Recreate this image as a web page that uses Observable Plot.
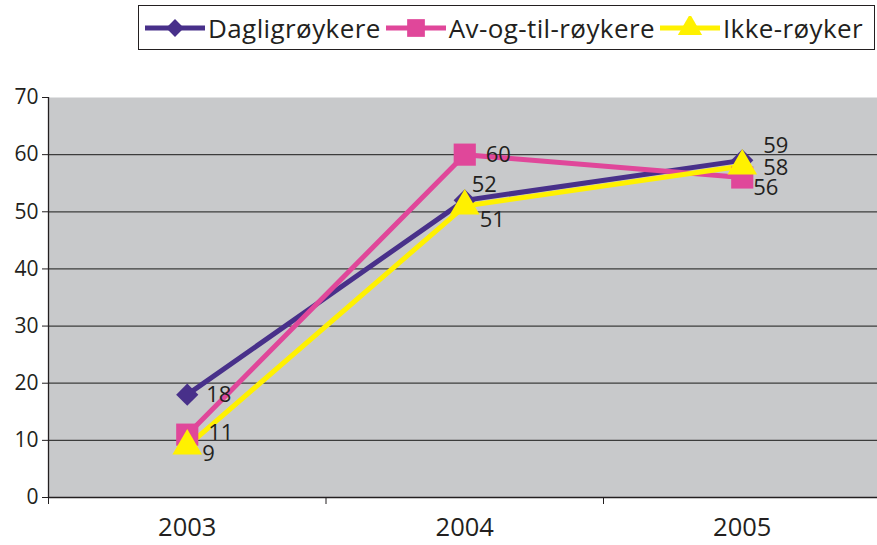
<!DOCTYPE html>
<html><head><meta charset="utf-8">
<script src="https://cdn.jsdelivr.net/npm/d3@7"></script>
<script src="https://cdn.jsdelivr.net/npm/@observablehq/plot@0.6"></script>
<style>
body{margin:0;background:#fff;overflow:hidden;font-family:"Open Sans",sans-serif;color:#231f20}
#wrap{position:relative;width:877px;height:545px}
#legend{position:absolute;left:138px;top:5px;width:737px;height:45px;border:1.3px solid #231f20;background:#fff;display:flex;align-items:center;padding-left:6px;box-sizing:border-box;z-index:2}
.item{display:flex;align-items:center;font-size:26px;margin-right:5px;white-space:nowrap;letter-spacing:0.4px}
.item svg{margin-right:3px}
</style></head>
<body><div id="wrap"><div id="legend"></div><div id="chart"></div></div>
<script>
const years = [2003, 2004, 2005];
const seriesNames = ["Dagligrøykere", "Av-og-til-røykere", "Ikke-røyker"];
const dagligroykere = [18, 52, 59];
const avOgTilRoykere = [11, 60, 56];
const ikkeRoyker = [9, 51, 58];
const yTicks = [0, 10, 20, 30, 40, 50, 60, 70];
const colors = ["#48308a", "#e0479a", "#fff100"];
const symbols = ["diamond2", "square", "triangle"];
const symbolR = [10, 12.5, 11];
// label nudges (layout only)
const labelDx = [[19, 7, 21], [21, 21, 11], [15, 15, 21]];
const labelDy = [[0, -15, -14], [-2, 0, 10], [8, 14, 2]];

const valuesBySeries = [dagligroykere, avOgTilRoykere, ikkeRoyker];
const rows = [];
seriesNames.forEach((s, si) => years.forEach((yr, i) => rows.push({
  series: s, si, year: yr, value: valuesBySeries[si][i],
  dx: labelDx[si][i], dy: labelDy[si][i]
})));
const bounds = [years[0] - 0.5, ...years.map(y => y + 0.5)];

const marks = [
  Plot.frame({fill: "#c8c9cb", stroke: null}),
  Plot.ruleY(yTicks.filter(t => t > 0 && t < 70), {stroke: "#3c3c3c", strokeWidth: 1.2}),
  Plot.axisY(yTicks, {tickSize: 6, tickPadding: 4, fontSize: 21, label: null, stroke: "#231f20", color: "#231f20"}),
  Plot.axisX(bounds.slice(0, 3), {tickSize: 7, tickFormat: () => "", label: null, stroke: "#231f20"}),
  Plot.axisX(years, {tickSize: 0, tickPadding: 20, fontSize: 25.5, tickFormat: d => String(d), label: null, color: "#231f20"}),
  Plot.ruleY([0], {stroke: "#231f20", strokeWidth: 1.3}),
  Plot.ruleX([bounds[0]], {y1: 0, y2: 70, stroke: "#231f20", strokeWidth: 1.3}),
  ...seriesNames.map((s, si) => Plot.line(rows.filter(r => r.si === si), {x: "year", y: "value", stroke: colors[si], strokeWidth: 5, strokeLinejoin: "miter"})),
  ...seriesNames.map((s, si) => Plot.dot(rows.filter(r => r.si === si), {x: "year", y: "value", symbol: () => symbols[si], fill: colors[si], stroke: "none", r: symbolR[si]})),
  ...seriesNames.map((s, si) => rows.filter(r => r.si === si).map(r =>
    Plot.text([r], {x: "year", y: "value", text: "value", textAnchor: "start", dx: r.dx, dy: r.dy, fontSize: 22, fill: "#231f20"}))).flat()
];

const chart = Plot.plot({
  width: 877, height: 545,
  marginTop: 97, marginBottom: 48, marginLeft: 48, marginRight: 0,
  style: {fontFamily: "'Open Sans', sans-serif", background: "transparent", color: "#231f20"},
  x: {type: "linear", domain: [bounds[0], bounds[3]], range: [48, 880.5]},
  y: {domain: [0, 70], range: [497, 97]},
  symbol: {type: "identity"},
  marks
});
document.getElementById("chart").appendChild(chart);

const legend = d3.select("#legend");
seriesNames.forEach((s, si) => {
  const item = legend.append("div").attr("class", "item");
  const svg = item.append("svg").attr("width", 60).attr("height", 24);
  svg.append("line").attr("x1", 0).attr("x2", 60).attr("y1", 12).attr("y2", 12).attr("stroke", colors[si]).attr("stroke-width", 5);
  svg.append("path").attr("transform", "translate(30,12)")
    .attr("d", d3.symbol([d3.symbolDiamond2, d3.symbolSquare, d3.symbolTriangle][si], Math.PI * [8, 10, 9][si] ** 2)())
    .attr("fill", colors[si]);
  item.append("span").text(s);
});
</script></body></html>
